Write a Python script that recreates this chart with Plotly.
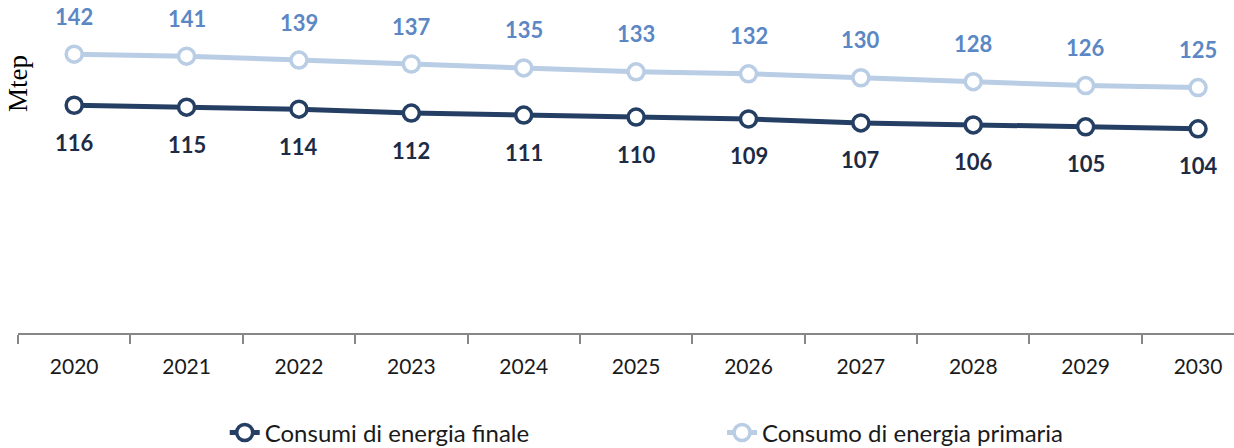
import plotly.graph_objects as go

years = ["2020", "2021", "2022", "2023", "2024", "2025", "2026", "2027", "2028", "2029", "2030"]
finale = [116, 115, 114, 112, 111, 110, 109, 107, 106, 105, 104]
primaria = [142, 141, 139, 137, 135, 133, 132, 130, 128, 126, 125]

DARK = "#243F63"
LIGHT = "#B9CDE5"
DARK_TXT = "#1E2B45"
LIGHT_TXT = "#5B87C5"
FONT = "Lato"

fig = go.Figure()
fig.add_trace(go.Scatter(
    x=years, y=finale, mode="lines+markers", name="Consumi di energia finale",
    line=dict(color=DARK, width=5),
    marker=dict(symbol="circle", size=16, color="white", line=dict(color=DARK, width=3.5)),
    legend="legend",
))
fig.add_trace(go.Scatter(
    x=years, y=primaria, mode="lines+markers", name="Consumo di energia primaria",
    line=dict(color=LIGHT, width=5),
    marker=dict(symbol="circle", size=16, color="white", line=dict(color=LIGHT, width=3.5)),
    legend="legend2",
))

annotations = []
for i, yv in enumerate(finale):
    annotations.append(dict(x=i, y=yv, xref="x", yref="y", text=str(yv), showarrow=False, yshift=-37,
                            font=dict(family=FONT, size=22, color=DARK_TXT, weight="bold")))
for i, yv in enumerate(primaria):
    annotations.append(dict(x=i, y=yv, xref="x", yref="y", text=str(yv), showarrow=False, yshift=38,
                            font=dict(family=FONT, size=22, color=LIGHT_TXT, weight="bold")))
annotations.append(dict(xref="paper", yref="paper", x=0.0, y=0.748, xanchor="center", yanchor="middle",
                        text="Mtep", textangle=-90,
                        showarrow=False, font=dict(family="Liberation Serif", size=27, color="black")))

fig.update_layout(
    width=1234, height=448,
    margin=dict(l=18, r=0, t=0, b=115, autoexpand=False),
    paper_bgcolor="white", plot_bgcolor="white",
    annotations=annotations,
    hovermode=False,
    xaxis=dict(
        type="category", range=[-0.5, 10.32], automargin=False,
        showline=True, linecolor="#878787", linewidth=2,
        ticks="outside", tickson="boundaries", ticklen=9, tickcolor="#878787", tickwidth=2,
        showgrid=False, zeroline=False,
        tickfont=dict(family=FONT, size=21, color="#1a1a1a"),
        ticklabelstandoff=14,
    ),
    yaxis=dict(range=[0, 169.6], visible=False, showgrid=False, zeroline=False, automargin=False),
    legend=dict(x=0.17, y=-0.30, xanchor="left", yanchor="middle", orientation="h",
                font=dict(family=FONT, size=24, color="#1a1a1a"), bgcolor="rgba(0,0,0,0)"),
    legend2=dict(x=0.579, y=-0.30, xanchor="left", yanchor="middle", orientation="h",
                 font=dict(family=FONT, size=24, color="#1a1a1a"), bgcolor="rgba(0,0,0,0)"),
    showlegend=True,
)

fig.write_html("out.html", config={"displayModeBar": False},
               post_script="document.body.style.margin='0';document.body.style.overflow='hidden';")
